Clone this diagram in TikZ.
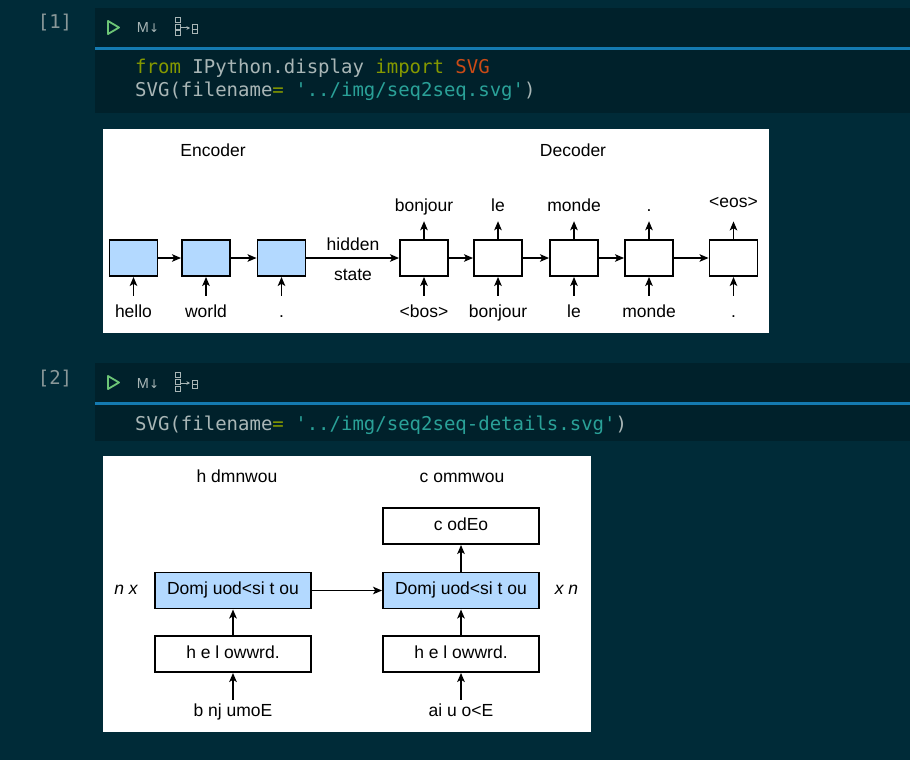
\documentclass[tikz,border=0pt]{standalone}
\usepackage{fontspec}
\setmainfont{Liberation Sans}
\newfontfamily\codefont{DejaVu Sans Mono}[Ligatures=TeXOff]
\newfontfamily\iconfont{DejaVu Sans}
\usepackage{xcolor}
\usepackage{tikz}
\usetikzlibrary {arrows.meta,backgrounds,positioning}
\definecolor{pagebg}{HTML}{002B38}
\definecolor{cellbg}{HTML}{00212B}
\definecolor{cellline}{HTML}{147AB0}
\definecolor{codegray}{HTML}{A9B6B6}
\definecolor{codegreen}{HTML}{859900}
\definecolor{codeorange}{HTML}{CB4B16}
\definecolor{codecyan}{HTML}{2AA198}
\definecolor{promptgray}{HTML}{8A9899}
\definecolor{rungreen}{HTML}{6CC576}
\definecolor{rnnblue}{HTML}{B3D9FF}

\begin{document}
\begin{tikzpicture}[x=1pt, y=-1pt, every node/.style={inner sep=0pt},
  rnn/.style={draw, line width=1.9pt, minimum width=48pt, minimum height=36pt},
  encrnn/.style={rnn, fill=rnnblue},
  layer/.style={draw, line width=1.9pt, minimum width=156pt, minimum height=36pt, text height=12.5pt, text depth=3.7pt, font=\fontsize{17.5}{20}\selectfont},
  word/.style={anchor=base, text height=12.5pt, text depth=3.7pt, font=\fontsize{17.5}{20}\selectfont},
  code/.style={anchor=base west, text=codegray, font=\codefont\fontsize{19}{22}\selectfont},
  link/.style={-{Stealth[length=9pt, width=7.5pt, inset=2.2pt]}, line width=1.8pt}]

\useasboundingbox (0,0) rectangle (910,760);
\begin{scope}[on background layer]
\fill[pagebg] (0,0) rectangle (910,760);
\fill[cellbg] (95,8) rectangle (910,113);
\fill[cellline] (95,47) rectangle (910,50);
\fill[cellbg] (95,363) rectangle (910,441);
\fill[cellline] (95,402) rectangle (910,405);
\fill[white] (103,129) rectangle (769,333);
\fill[white] (103,456) rectangle (591,732);
\end{scope}

\node (p1) at (55,29) [code, anchor=base, text=promptgray]{[1]};
\draw[rungreen, line width=1.8pt, line join=round] (108,21) -- (119,27.5) -- (108,34) -- cycle;
\node (md1) at (148,33) [anchor=base, text=codegray, font=\fontsize{14.5}{16}\selectfont]{M{\iconfont\fontsize{12}{14}\selectfont↓}};
\draw[codegray, line width=1pt] (175.5,17.5) rectangle (180,22.5) (175.5,24.5) rectangle (180,29.5) (175.5,31) rectangle (180,36);
\draw[codegray, line width=1pt, -{Stealth[length=3.5pt, width=3.5pt]}] (181,28) -- (190,28);
\draw[codegray, line width=1pt] (192,25) rectangle (197,33.5) (192,29.2) -- (197,29.2);
\node (l1) at (135,74) [code]{{\color{codegreen}from} IPython.display {\color{codegreen}import} {\color{codeorange}SVG}};
\node (l2) at (135,96) [code]{SVG(filename{\color{codegreen}=} {\color{codecyan}'../img/seq2seq.svg'})};

\node (enc) at (213,156) [word]{Encoder};
\node (dec) at (573,156) [word]{Decoder};
\node (e1) at (133.5,258) [encrnn]{};
\node (e2) at (206,258) [encrnn]{};
\node (e3) at (281.5,258) [encrnn]{};
\node (d1) at (424,258) [rnn]{};
\node (d2) at (498,258) [rnn]{};
\node (d3) at (574,258) [rnn]{};
\node (d4) at (649,258) [rnn]{};
\node (d5) at (733.5,258) [rnn]{};
\node (hello) at (133.5,317) [word]{hello};
\node (world) at (206,317) [word]{world};
\node (stop) at (281.5,317) [word]{.};
\node (bos) at (424,317) [word]{<bos>};
\node (inbonjour) at (498,317) [word]{bonjour};
\node (inle) at (574,317) [word]{le};
\node (inmonde) at (649,317) [word]{monde};
\node (instop) at (733.5,317) [word]{.};
\node (outbonjour) at (424,211) [word]{bonjour};
\node (outle) at (498,211) [word]{le};
\node (outmonde) at (574,211) [word]{monde};
\node (outstop) at (649,211) [word]{.};
\node (eos) at (733.5,207) [word]{<eos>};
\node (hidden) at (353,250) [word]{hidden};
\node (state) at (353,280) [word]{state};

\draw[link] (e1) -- (e2);
\draw[link] (e2) -- (e3);
\draw[link] (e3) -- (d1);
\draw[link] (d1) -- (d2);
\draw[link] (d2) -- (d3);
\draw[link] (d3) -- (d4);
\draw[link] (d4) -- (d5);
\draw[link, shorten <=8.5pt] (hello) -- (e1);
\draw[link, shorten <=8.5pt] (world) -- (e2);
\draw[link, shorten <=8.5pt] (stop) -- (e3);
\draw[link, shorten <=8.5pt] (bos) -- (d1);
\draw[link, shorten <=8.5pt] (inbonjour) -- (d2);
\draw[link, shorten <=8.5pt] (inle) -- (d3);
\draw[link, shorten <=8.5pt] (inmonde) -- (d4);
\draw[link, shorten <=8.5pt] (instop) -- (d5);
\draw[link, shorten >=6.3pt] (d1) -- (outbonjour);
\draw[link, shorten >=6.3pt] (d2) -- (outle);
\draw[link, shorten >=6.3pt] (d3) -- (outmonde);
\draw[link, shorten >=6.3pt] (d4) -- (outstop);
\draw[link, shorten >=10.5pt] (d5) -- (eos);

\node (p2) at (55,384) [code, anchor=base, text=promptgray]{[2]};
\draw[rungreen, line width=1.8pt, line join=round] (108,376) -- (119,382.5) -- (108,389) -- cycle;
\node (md2) at (148,388) [anchor=base, text=codegray, font=\fontsize{14.5}{16}\selectfont]{M{\iconfont\fontsize{12}{14}\selectfont↓}};
\draw[codegray, line width=1pt] (175.5,372.5) rectangle (180,377.5) (175.5,379.5) rectangle (180,384.5) (175.5,386) rectangle (180,391);
\draw[codegray, line width=1pt, -{Stealth[length=3.5pt, width=3.5pt]}] (181,383) -- (190,383);
\draw[codegray, line width=1pt] (192,380) rectangle (197,388.5) (192,384.2) -- (197,384.2);
\node (l3) at (135,430) [code]{SVG(filename{\color{codegreen}=} {\color{codecyan}'../img/seq2seq-details.svg'})};

\node (srctop) at (237,482) [word]{h dmnwou};
\node (tgttop) at (462,482) [word]{c ommwou};
\node (emb1) at (233,654) [layer]{h e l owwrd.};
\node (rec1) at (233,590.5) [layer, fill=rnnblue]{Domj uod<si t ou};
\node (emb2) at (461,654) [layer]{h e l owwrd.};
\node (rec2) at (461,590.5) [layer, fill=rnnblue]{Domj uod<si t ou};
\node (dense) at (461,526) [layer]{c odEo};
\node (srcin) at (233,716) [word]{b nj umoE};
\node (tgtin) at (461,716) [word]{ai u o<E};
\node (nx) at (126,594) [word, font=\fontsize{17.5}{20}\selectfont\itshape]{n x};
\node (xn) at (566.5,594) [word, font=\fontsize{17.5}{20}\selectfont\itshape]{x n};

\draw[link, shorten <=3.5pt] (srcin) -- (emb1);
\draw[link, shorten <=3.5pt] (tgtin) -- (emb2);
\draw[link] (emb1) -- (rec1);
\draw[link] (emb2) -- (rec2);
\draw[link] (rec2) -- (dense);
\draw[link] (rec1) -- (rec2);

\end{tikzpicture}
\end{document}
